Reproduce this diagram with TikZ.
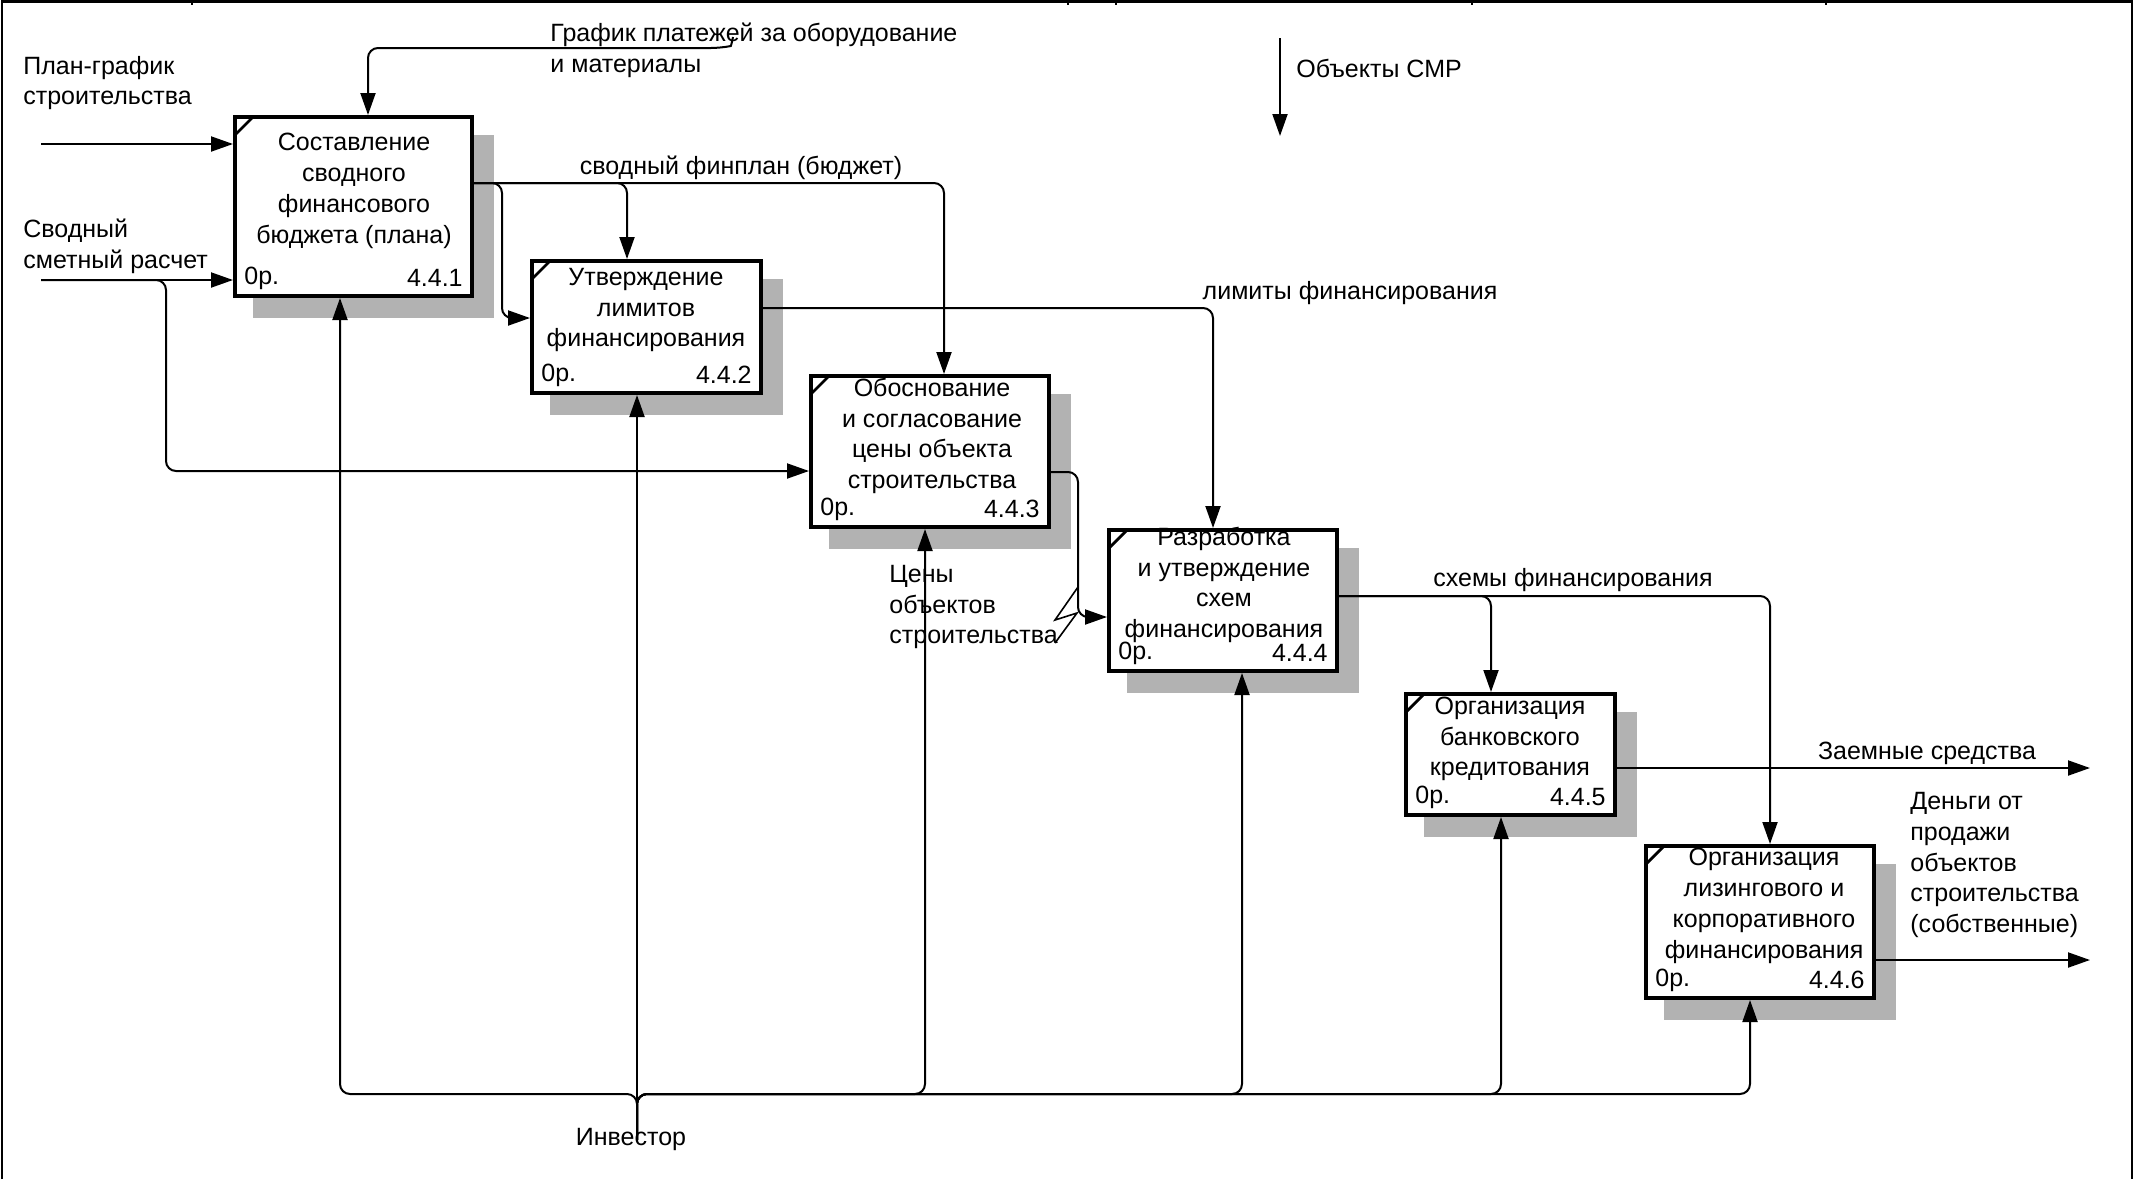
\documentclass[tikz,border=0pt]{standalone}
\usepackage{fontspec}
\setmainfont{Liberation Sans}
\usetikzlibrary{arrows.meta,calc,backgrounds}
\definecolor{shadowc}{gray}{0.70}
\newcommand{\idefbox}[6]{%
  \node[box, minimum width={#4*0.5pt-2.2pt}, minimum height={#5*0.5pt-2.2pt}] (#1) at (#2,#3) {};
  \begin{scope}[on background layer]
    \fill[shadowc] ($(#1.north west)+(20,20)$) rectangle ($(#1.south east)+(20,20)$);
  \end{scope}
  \draw[line width=1.4pt] ($(#1.north west)+(2,20)$) -- ($(#1.north west)+(20,2)$);
  \node[anchor=west] (#1o) at ($(#1.south west)+(11,-20)$) {0р.};
  \node[anchor=east] (#1n) at ($(#1.south east)+(-11,-20)$) {#6};
}
\begin{document}
\begin{tikzpicture}[x=0.5pt,y=-0.5pt,
  every node/.style={font=\fontsize{12.5pt}{15.4pt}\selectfont, inner sep=0pt},
  box/.style={draw, line width=2.2pt, fill=white, anchor=north west, inner sep=0pt},
  boxtext/.style={align=center},
  lbl/.style={align=left, anchor=west},
  conn/.style={line width=1pt, rounded corners=5pt},
  arr/.style={-{Triangle[length=11pt,width=7.5pt]}}]
\useasboundingbox (0,0) rectangle (2147,1179);
% frame
\draw[line width=1.2pt] (2,1179) -- (2,1.5) -- (2132,1.5) -- (2132,1179);
\foreach \x in {192,1068,1116,1472,1826} \draw[line width=0.8pt] (\x,0) -- (\x,5);
% boxes
\idefbox{b1}{233}{115}{241}{183}{4.4.1}
\idefbox{b2}{530}{259}{233}{136}{4.4.2}
\idefbox{b3}{809}{374}{242}{155}{4.4.3}
\idefbox{b4}{1107}{528}{232}{145}{4.4.4}
\idefbox{b5}{1404}{692}{213}{125}{4.4.5}
\idefbox{b6}{1644}{844}{232}{156}{4.4.6}
\node[boxtext] (b1t) at (354,191) {Составление\\сводного\\финансового\\бюджета (плана)};
\node[boxtext] (b2t) at (646,310) {Утверждение\\лимитов\\финансирования};
\node[boxtext] (b3t) at (932,436) {Обоснование\\и согласование\\цены объекта\\строительства};
\node[boxtext] (b4t) at (1224,585) {Разработка\\и утверждение\\схем\\финансирования};
\node[boxtext] (b5t) at (1510,739) {Организация\\банковского\\кредитования};
\node[boxtext] (b6t) at (1764,906) {Организация\\лизингового и\\корпоративного\\финансирования};
% redraw borders over the texts
\foreach \b in {b1,b2,b3,b4,b5,b6}
  \draw[line width=2.2pt] ($(\b.north west)+(2.2,2.2)$) rectangle ($(\b.south east)+(-2.2,-2.2)$);
% inputs
\coordinate (inA) at (41,144);
\coordinate (inB) at (41,280);
\coordinate (c3in) at (166,471);
\draw[conn,arr] (inA) -- (inA -| b1.west);
\draw[conn,arr] (inB) -- (inB -| b1.west);
\draw[conn,arr] (inB) -| (c3in) -- (c3in -| b3.west);
% control into b1
\coordinate (g1) at (733,37);
\coordinate (g3) at (368,48);
\draw[conn,arr] (g1) .. controls (731,46) .. (721,48) -- (g3) -- (g3 |- b1.north);
% svodny finplan
\coordinate (yf) at (0,183);
\coordinate (fB) at (502,318);
\draw[conn,arr] (b1.east |- yf) -| ($(b3.north west)+(135,0)$);
\draw[conn,arr] (b1.east |- yf) -| ($(b2.north west)+(97,0)$);
\draw[conn,arr] (b1.east |- yf) -| (fB) -- (fB -| b2.west);
% limity
\coordinate (yl) at (0,308);
\draw[conn,arr] (b2.east |- yl) -| ($(b4.north west)+(106,0)$);
% b3 -> b4
\coordinate (y3) at (0,472);
\coordinate (o3) at (1078,617);
\draw[conn,arr] (b3.east |- y3) -| (o3) -- (o3 -| b4.west);
\draw[line width=0.8pt] (1078,587) -- (1055,620) -- (1077,613) -- (1055,643);
% skhemy
\coordinate (ys) at (0,596);
\draw[conn,arr] (b4.east |- ys) -| ($(b5.north west)+(87,0)$);
\draw[conn,arr] (b4.east |- ys) -| ($(b6.north west)+(126,0)$);
% outputs
\coordinate (out1) at (2090,768);
\coordinate (out2) at (2090,960);
\draw[conn,arr] (out1 -| b5.east) -- (out1);
\draw[conn,arr] (out2 -| b6.east) -- (out2);
% objekty SMR
\coordinate (smr1) at (1280,38);
\coordinate (smr2) at (1280,136);
\draw[conn,arr] (smr1) -- (smr2);
% mechanism
\coordinate (inv) at (637,1140);
\foreach \m/\b in {340/b1, 925/b3, 1242/b4, 1501/b5, 1750/b6} {
  \coordinate (mm) at (\m,1094);
  \draw[conn,arr] (inv) |- (mm) -- (mm |- \b.south);
}
\draw[conn,arr] (inv) -- (inv |- b2.south);
% labels
\node[lbl] (lA) at (23,83) {План-график\\строительства};
\node[lbl] (lB) at (23,246) {Сводный\\сметный расчет};
\node[lbl] (lG) at (550,50) {График платежей за оборудование\\и материалы};
\node[lbl] (lS) at (1296,68) {Объекты СМР};
\node (lF) at (741,168) {сводный финплан (бюджет)};
\node (lL) at (1350,293) {лимиты финансирования};
\node[lbl] (lC) at (889,607) {Цены\\объектов\\строительства};
\node (lSx) at (1573,580) {схемы финансирования};
\node (lZ) at (1927,753) {Заемные средства};
\node[lbl] (lD) at (1910,865) {Деньги от\\продажи\\объектов\\строительства\\(собственные)};
\node (lI) at (631,1139) {Инвестор};
\end{tikzpicture}
\end{document}
